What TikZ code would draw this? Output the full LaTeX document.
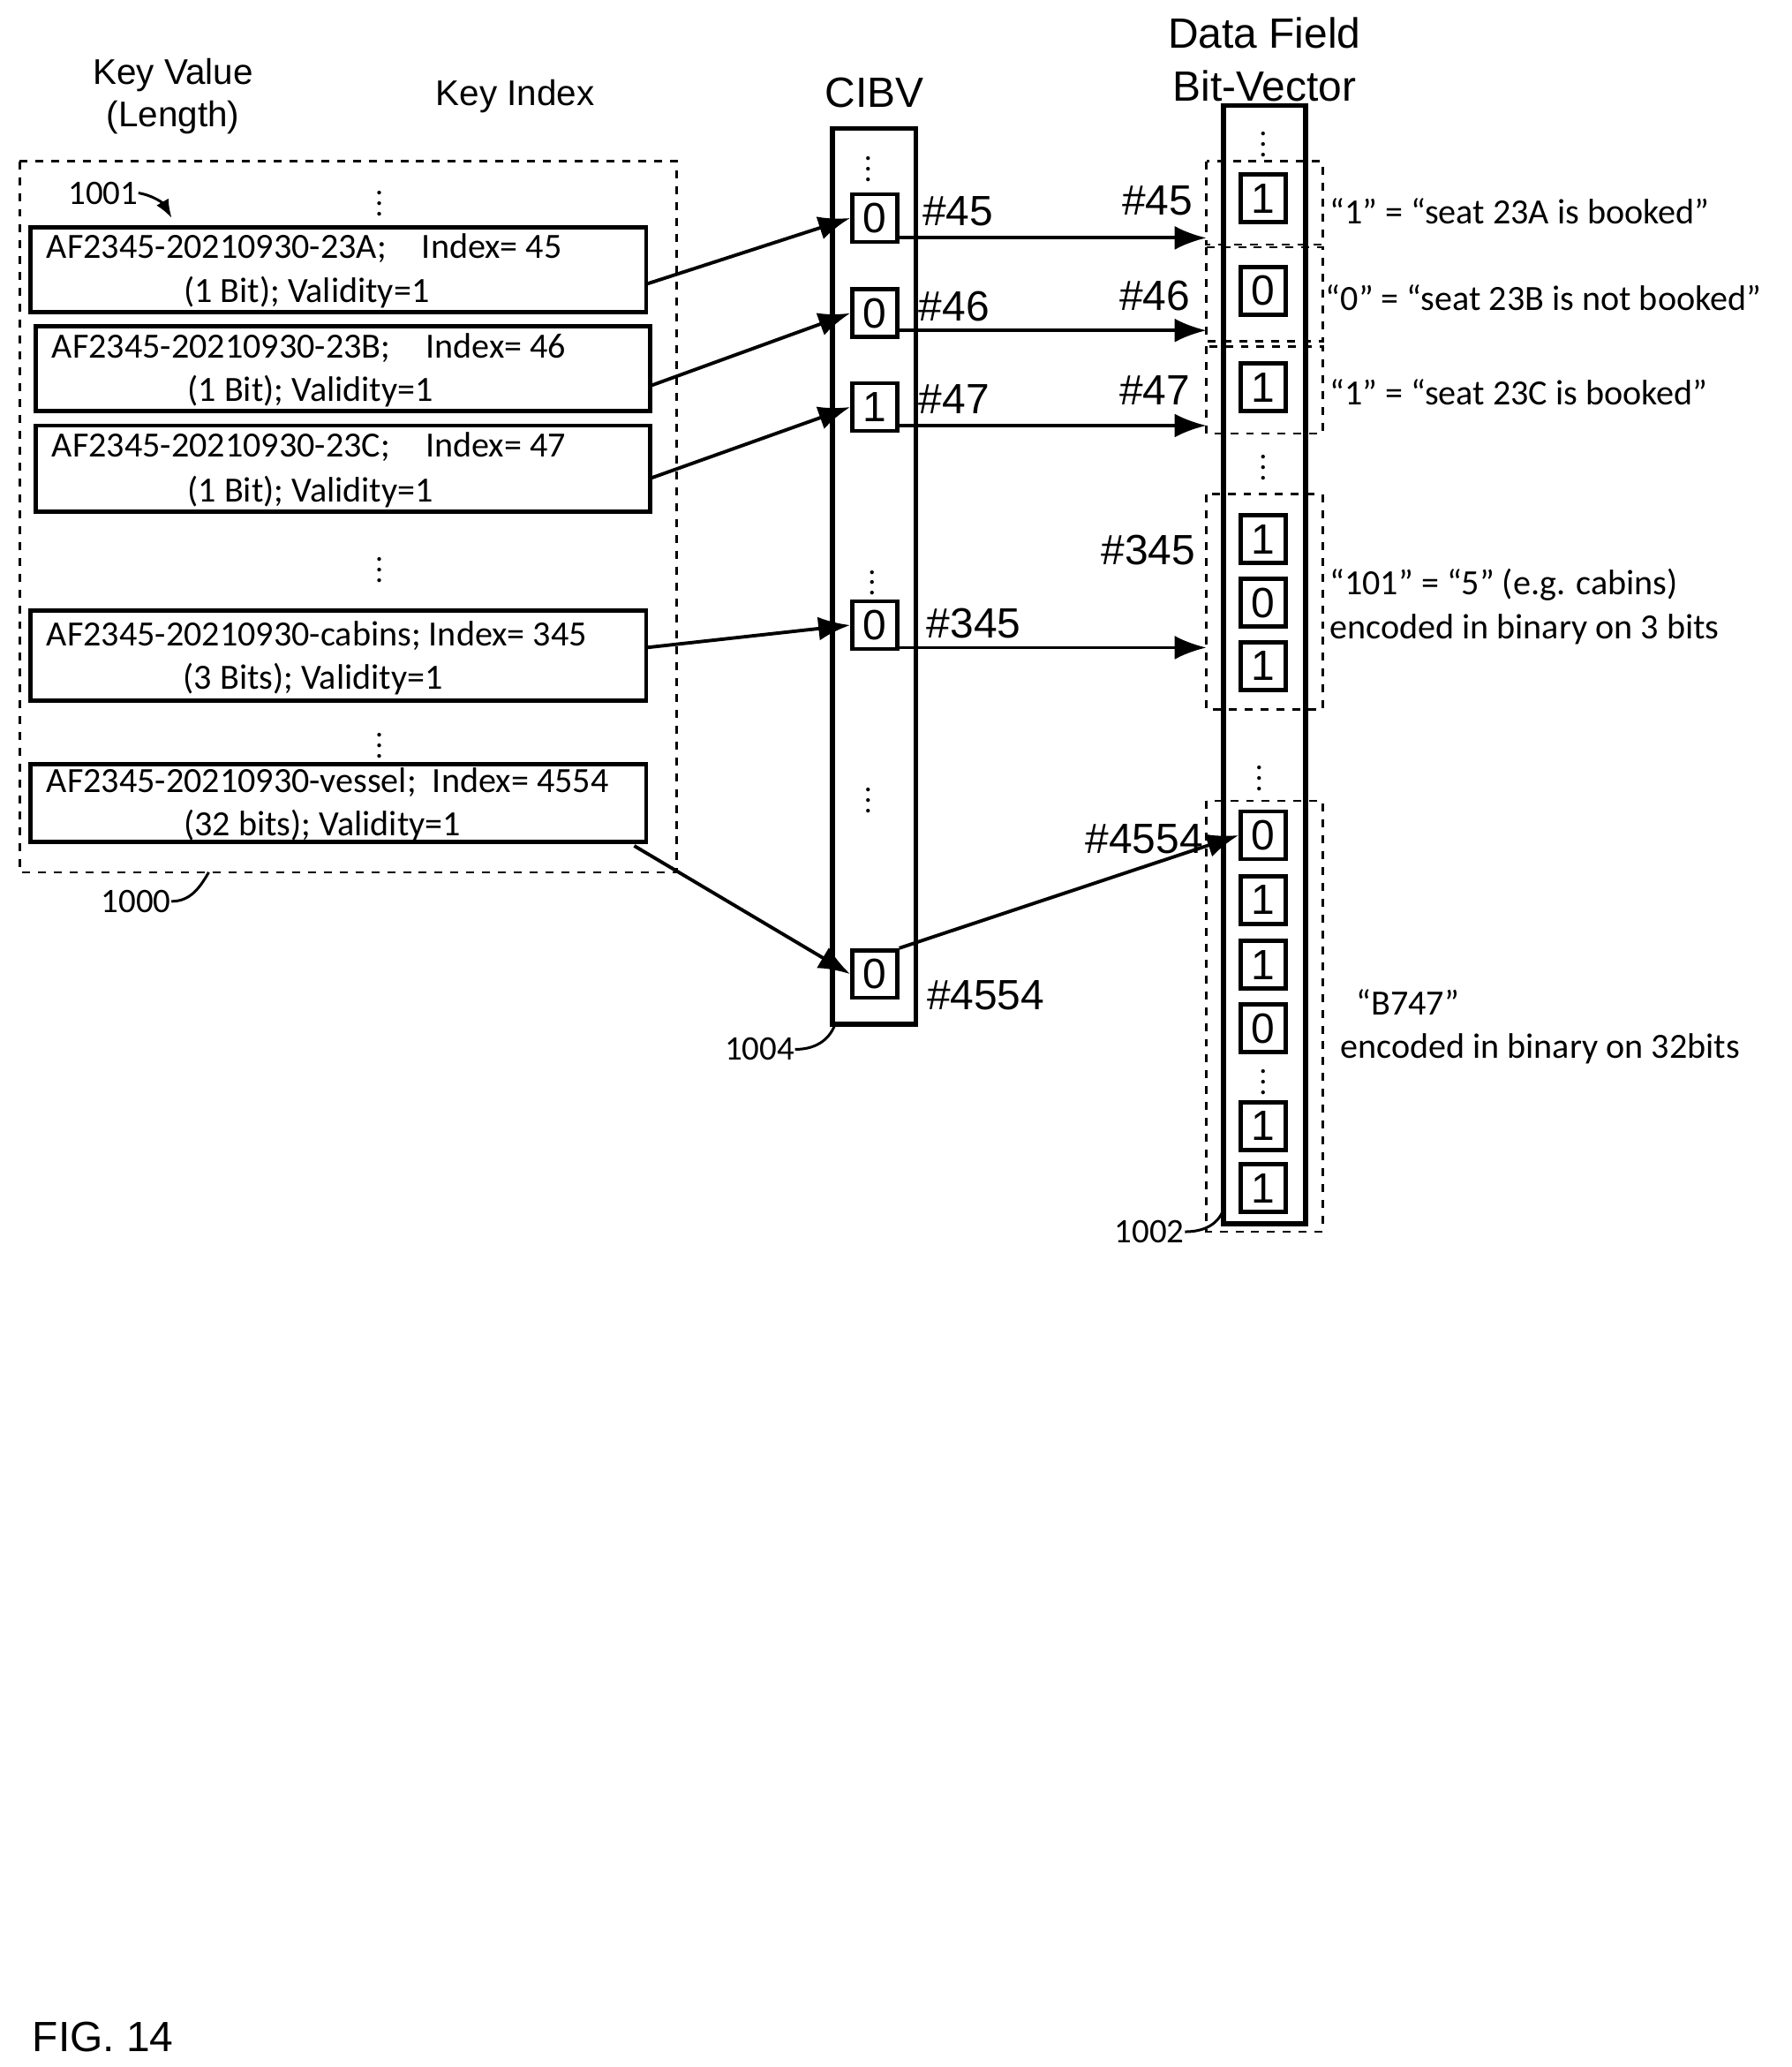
\documentclass[tikz,border=0pt]{standalone}
\usepackage{fontspec}
\setmainfont{Carlito}
\newfontfamily\arl{Liberation Sans}
\usetikzlibrary{arrows.meta}
\begin{document}
\begin{tikzpicture}[x=0.5pt,y=-0.5pt,
  kbox/.style={draw,line width=1.6pt},
  dbox/.style={draw,dashed,line width=0.9pt},
  cell/.style={draw,line width=1.6pt,minimum width=17pt,minimum height=18pt,inner sep=0pt,font=\arl\fontsize{16}{16}\selectfont},
  lab/.style={font=\arl\fontsize{16}{16}\selectfont,inner sep=0pt},
  hdr/.style={font=\arl\fontsize{13.5}{16}\selectfont,align=center,inner sep=0pt},
  txt/.style={font=\fontsize{13.4}{16.5}\selectfont,inner sep=0pt},
  vd/.style={font=\fontsize{12}{12}\selectfont,inner sep=0pt},
  arr/.style={line width=1.3pt,-{Latex[length=12pt,width=9pt]}},
  ref/.style={font=\fontsize{13}{13}\selectfont,inner sep=0pt}]
\useasboundingbox (0,0) rectangle (1356,1564);
% left
\node[hdr] (hkv) at (131,73) {Key Value\\(Length)};
\node[hdr] (hki) at (390,73) {Key Index};
\draw[dbox] (15,122) rectangle (512,660);
\draw[kbox] (23,172) rectangle (489,236);
\draw[kbox] (27,247) rectangle (492,311);
\draw[kbox] (27,322) rectangle (492,387);
\draw[kbox] (23,462) rectangle (489,530);
\draw[kbox] (23,578) rectangle (489,637);
\node[txt,anchor=west] (t1a) at (35,188) {AF2345-20210930-23A;\quad Index= 45};
\node[txt] (t1b) at (232,221) {(1 Bit); Validity=1};
\node[txt,anchor=west] (t2a) at (39,263) {AF2345-20210930-23B;\quad Index= 46};
\node[txt] (t2b) at (235,296) {(1 Bit); Validity=1};
\node[txt,anchor=west] (t3a) at (39,338) {AF2345-20210930-23C;\quad Index= 47};
\node[txt] (t3b) at (235,372) {(1 Bit); Validity=1};
\node[txt,anchor=west] (t4a) at (35,481) {AF2345-20210930-cabins; Index= 345};
\node[txt] (t4b) at (237,514) {(3 Bits); Validity=1};
\node[txt,anchor=west] (t5a) at (35,592) {AF2345-20210930-vessel;\ \ Index= 4554};
\node[txt] (t5b) at (244,625) {(32 bits); Validity=1};
\node[vd] (v1) at (287,148) {$\vdots$};
\node[vd] (v2) at (287,425) {$\vdots$};
\node[vd] (v3) at (287,558) {$\vdots$};
\node[ref] (r1001) at (78,146) {1001};
\draw[line width=1pt,-{Latex[length=7pt]}] (r1001.east) to[out=-10,in=120] (130,165);
\node[ref] (r1000) at (103,682) {1000};
\draw[line width=1pt] (r1000.east) to[out=0,in=-120] (158,660);
% CIBV
\node[hdr,font=\arl\fontsize{16}{16}\selectfont] (hc) at (662,70) {CIBV};
\draw[line width=1.8pt] (630,97) rectangle (693,775);
\node[cell] (c45) at (662,165) {0};
\node[cell] (c46) at (662,237) {0};
\node[cell] (c47) at (662,308) {1};
\node[cell] (c345) at (662,473) {0};
\node[cell] (c4554) at (662,737) {0};
\node[vd] at (657,122) {$\vdots$};
\node[vd] at (660,435) {$\vdots$};
\node[vd] at (657,600) {$\vdots$};
\node[lab] at (725,160) {\#45};
\node[lab] at (722,232) {\#46};
\node[lab] at (722,302) {\#47};
\node[lab] at (737,472) {\#345};
\node[lab] at (746,753) {\#4554};
\node[ref] (r1004) at (575,794) {1004};
\draw[line width=1pt] (r1004.east) to[out=0,in=-110] (632,775);
% Data field
\node[hdr,font=\arl\fontsize{16}{20}\selectfont] (hd) at (957,45) {Data Field\\Bit-Vector};
\draw[line width=1.8pt] (926,80) rectangle (988,926);
\draw[dbox] (913,122) rectangle (1001,185);
\draw[dbox] (913,187) rectangle (1001,258);
\draw[dbox] (913,262) rectangle (1001,328);
\draw[dbox] (913,374) rectangle (1001,537);
\draw[dbox] (913,606) rectangle (1001,932);
\node[cell] (d45) at (956,150) {1};
\node[cell] (d46) at (956,220) {0};
\node[cell] (d47) at (956,293) {1};
\node[cell] (d345a) at (956,408) {1};
\node[cell] (d345b) at (956,456) {0};
\node[cell] (d345c) at (956,504) {1};
\node[cell] (d4554) at (956,632) {0};
\node[cell] (e2) at (956,681) {1};
\node[cell] (e3) at (956,730) {1};
\node[cell] (e4) at (956,778) {0};
\node[cell] (e5) at (956,852) {1};
\node[cell] (e6) at (956,899) {1};
\node[vd] at (956,813) {$\vdots$};
\node[vd] at (956,103) {$\vdots$};
\node[vd] at (956,348) {$\vdots$};
\node[vd] at (953,583) {$\vdots$};
\node[lab] at (876,152) {\#45};
\node[lab] at (874,224) {\#46};
\node[lab] at (874,295) {\#47};
\node[lab] at (869,416) {\#345};
\node[lab] at (866,635) {\#4554};
\node[txt,anchor=west] at (1006,160) {“1” = “seat 23A is booked”};
\node[txt,anchor=west] at (1003,225) {“0” = “seat 23B is not booked”};
\node[txt,anchor=west] at (1006,297) {“1” = “seat 23C is booked”};
\node[txt,anchor=west,align=left] at (1006,459) {“101” = “5” (e.g. cabins)\\encoded in binary on 3 bits};
\node[txt,anchor=west,align=left] at (1014,777) {\ \ “B747”\\encoded in binary on 32bits};
\node[ref] (r1002) at (870,932) {1002};
\draw[line width=1pt] (r1002.east) to[out=0,in=-110] (926,915);
% arrows
\draw[arr] (489,215) -- (c45.west);
\draw[arr] (492,292) -- (c46.west);
\draw[arr] (492,362) -- (c47.west);
\draw[arr] (489,490) -- (c345.west);
\draw[arr] (480,640) -- (c4554.west);
\draw[arr] (c45.east|-0,180) -- (913,180);
\draw[arr] (c46.east|-0,250) -- (913,250);
\draw[arr] (c47.east|-0,322) -- (913,322);
\draw[arr] (c345.east|-0,490) -- (913,490);
\draw[arr] (c4554.north east) -- (d4554.west);
\node[font=\arl\fontsize{16}{16}\selectfont,inner sep=0pt] (fig) at (78,1541) {FIG. 14};
\end{tikzpicture}
\end{document}
